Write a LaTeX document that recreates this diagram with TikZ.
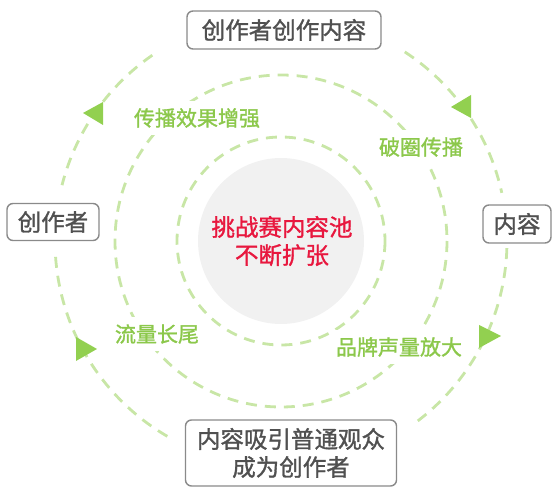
\documentclass[tikz,border=0pt]{standalone}
\usepackage{fontspec}
\usetikzlibrary{calc}
\setmainfont{Noto Sans CJK SC}
\newfontfamily\cjkmed{Noto Sans CJK SC}[FakeBold=1.3]
\definecolor{boxgray}{HTML}{8A8A8A}
\definecolor{txtgray}{HTML}{505050}
\definecolor{lblgreen}{HTML}{8CC84B}
\definecolor{dashgreen}{HTML}{C8E6A6}
\definecolor{arrgreen}{HTML}{92D050}
\definecolor{poolgray}{HTML}{F1F1F1}
\definecolor{poolred}{HTML}{E8173E}
\tikzset{
  stagebox/.style={draw=boxgray, line width=1.4pt, rounded corners=6pt, fill=white,
    text=txtgray, font=\cjkmed\fontsize{23.5}{28}\selectfont, inner sep=0pt, align=center},
  dashline/.style={draw=dashgreen, line width=2.8pt, dash pattern=on 11pt off 8pt},
  flowlabel/.style={text=lblgreen, font=\cjkmed\fontsize{21}{24}\selectfont, fill=white,
    inner xsep=2pt, inner ysep=7pt},
  arrowtri/.style={fill=arrgreen}
}
\begin{document}
\begin{tikzpicture}[x=1pt,y=-1pt]
\useasboundingbox (0,0) rectangle (558,497);
\coordinate (c) at (281,241);
% central pool
\fill[poolgray] (c) circle[radius=83];
\node[text=poolred, font=\cjkmed\fontsize{23.5}{28}\selectfont, align=center] (pool) at (282,241) {挑战赛内容池\\不断扩张};
% rings
\draw[dashline] (c) circle[radius=104];
\draw[dashline] (c) circle[radius=166];
% outer arcs
\draw[dashline] ($(c)+(-124.7:226)$) arc[start angle=-124.7, end angle=-165.7, radius=226];
\draw[dashline] ($(c)+(-56.8:226)$) arc[start angle=-56.8, end angle=-12.3, radius=226];
\draw[dashline] ($(c)+(1.8:226)$) arc[start angle=1.8, end angle=54.3, radius=226];
\draw[dashline] ($(c)+(120.2:226)$) arc[start angle=120.2, end angle=177.4, radius=226];
% arrowheads
\fill[arrowtri] (83,113) -- (103,102) -- (103,125) -- cycle;
\fill[arrowtri] (451,107) -- (471,95) -- (471,118) -- cycle;
\fill[arrowtri] (501,336) -- (479,325) -- (479,348) -- cycle;
\fill[arrowtri] (97,349) -- (76,337) -- (76,361) -- cycle;
% flow labels
\node[flowlabel] (l1) at (197,118) {传播效果增强};
\node[flowlabel] (l2) at (421,147) {破圈传播};
\node[flowlabel] (l3) at (157,334) {流量长尾};
\node[flowlabel] (l4) at (399,347) {品牌声量放大};
% stage nodes
\node[stagebox, minimum width=194pt, minimum height=38pt] (top) at (284,30) {创作者创作内容};
\node[stagebox, minimum width=92pt, minimum height=37pt] (left) at (53,222) {创作者};
\node[stagebox, minimum width=68pt, minimum height=38pt] (right) at (517,224) {内容};
\node[stagebox, minimum width=211pt, minimum height=66pt] (bottom) at (291,453) {内容吸引普通观众\\成为创作者};
\end{tikzpicture}
\end{document}
